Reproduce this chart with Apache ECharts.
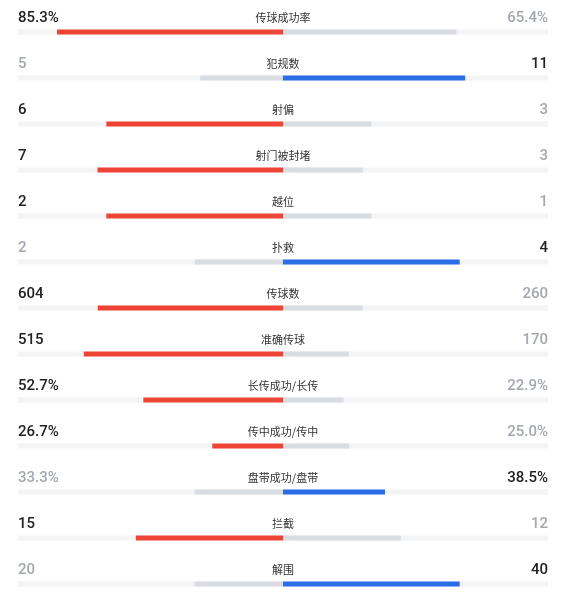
<!DOCTYPE html><html><head><meta charset="utf-8">
<script src="https://cdn.jsdelivr.net/npm/echarts@6/dist/echarts.min.js"></script>
<style>html,body{margin:0;background:#fff}#c{width:565px;height:604px}</style></head><body><div id="c"></div>
<script>
const labels=['传球成功率','犯规数','射偏','射门被封堵','越位','扑救','传球数','准确传球','长传成功/长传','传中成功/传中','盘带成功/盘带','拦截','解围'];
const leftText=['85.3%','5','6','7','2','2','604','515','52.7%','26.7%','33.3%','15','20'];
const rightText=['65.4%','11','3','3','1','4','260','170','22.9%','25.0%','38.5%','12','40'];
const leftVal=[85.3,5,6,7,2,2,604,515,52.7,26.7,33.3,15,20];
const rightVal=[65.4,11,3,3,1,4,260,170,22.9,25.0,38.5,12,40];
const isPct=[1,0,0,0,0,0,0,0,1,1,1,0,0];
const RED='#ee4437',BLUE='#2b6de5',GRAY='#d9dce1',TRACK='#f3f4f6';
const lf=[],rf=[];
for(let i=0;i<labels.length;i++){
  let l,r;
  if(isPct[i]){l=leftVal[i]/100;r=rightVal[i]/100;}
  else{const s=leftVal[i]+rightVal[i];l=leftVal[i]/s;r=rightVal[i]/s;}
  const lw=leftVal[i]>rightVal[i];
  lf.push({value:-l,itemStyle:{color:lw?RED:GRAY}});
  rf.push({value:r,itemStyle:{color:lw?GRAY:BLUE}});
}
const ch=echarts.init(document.getElementById('c'));
ch.setOption({animation:false,
 grid:{left:18,right:17,top:32,bottom:20},
 xAxis:{type:'value',min:-1,max:1,show:false},
 yAxis:{type:'category',data:labels,inverse:true,boundaryGap:false,show:false},
 series:[
  {type:'bar',stack:'t',barWidth:5,data:labels.map(()=>-1),itemStyle:{color:TRACK},silent:true},
  {type:'bar',stack:'t',barWidth:5,data:labels.map(()=>1),itemStyle:{color:TRACK},silent:true},
  {type:'bar',stack:'d',barWidth:5,barGap:'-100%',data:lf},
  {type:'bar',stack:'d',barWidth:5,barGap:'-100%',data:rf}
 ]});
const g=[];
labels.forEach((lab,i)=>{
  const y=ch.convertToPixel({yAxisIndex:0},lab)-14;
  const x0=ch.convertToPixel({xAxisIndex:0},-1),x1=ch.convertToPixel({xAxisIndex:0},1),xc=ch.convertToPixel({xAxisIndex:0},0);
  const lw=leftVal[i]>rightVal[i];
  g.push({type:'text',x:x0,y:y,style:{text:leftText[i],fill:lw?'#222':'#a3a7b0',font:'500 15px Roboto',align:'left',verticalAlign:'middle'}});
  g.push({type:'text',x:x1,y:y,style:{text:rightText[i],fill:lw?'#a3a7b0':'#222',font:'500 15px Roboto',align:'right',verticalAlign:'middle'}});
  g.push({type:'text',x:xc,y:y,style:{text:lab,fill:'#333',font:'11px "Noto Sans CJK SC"',align:'center',verticalAlign:'middle'}});
});
ch.setOption({graphic:g});
</script></body></html>
